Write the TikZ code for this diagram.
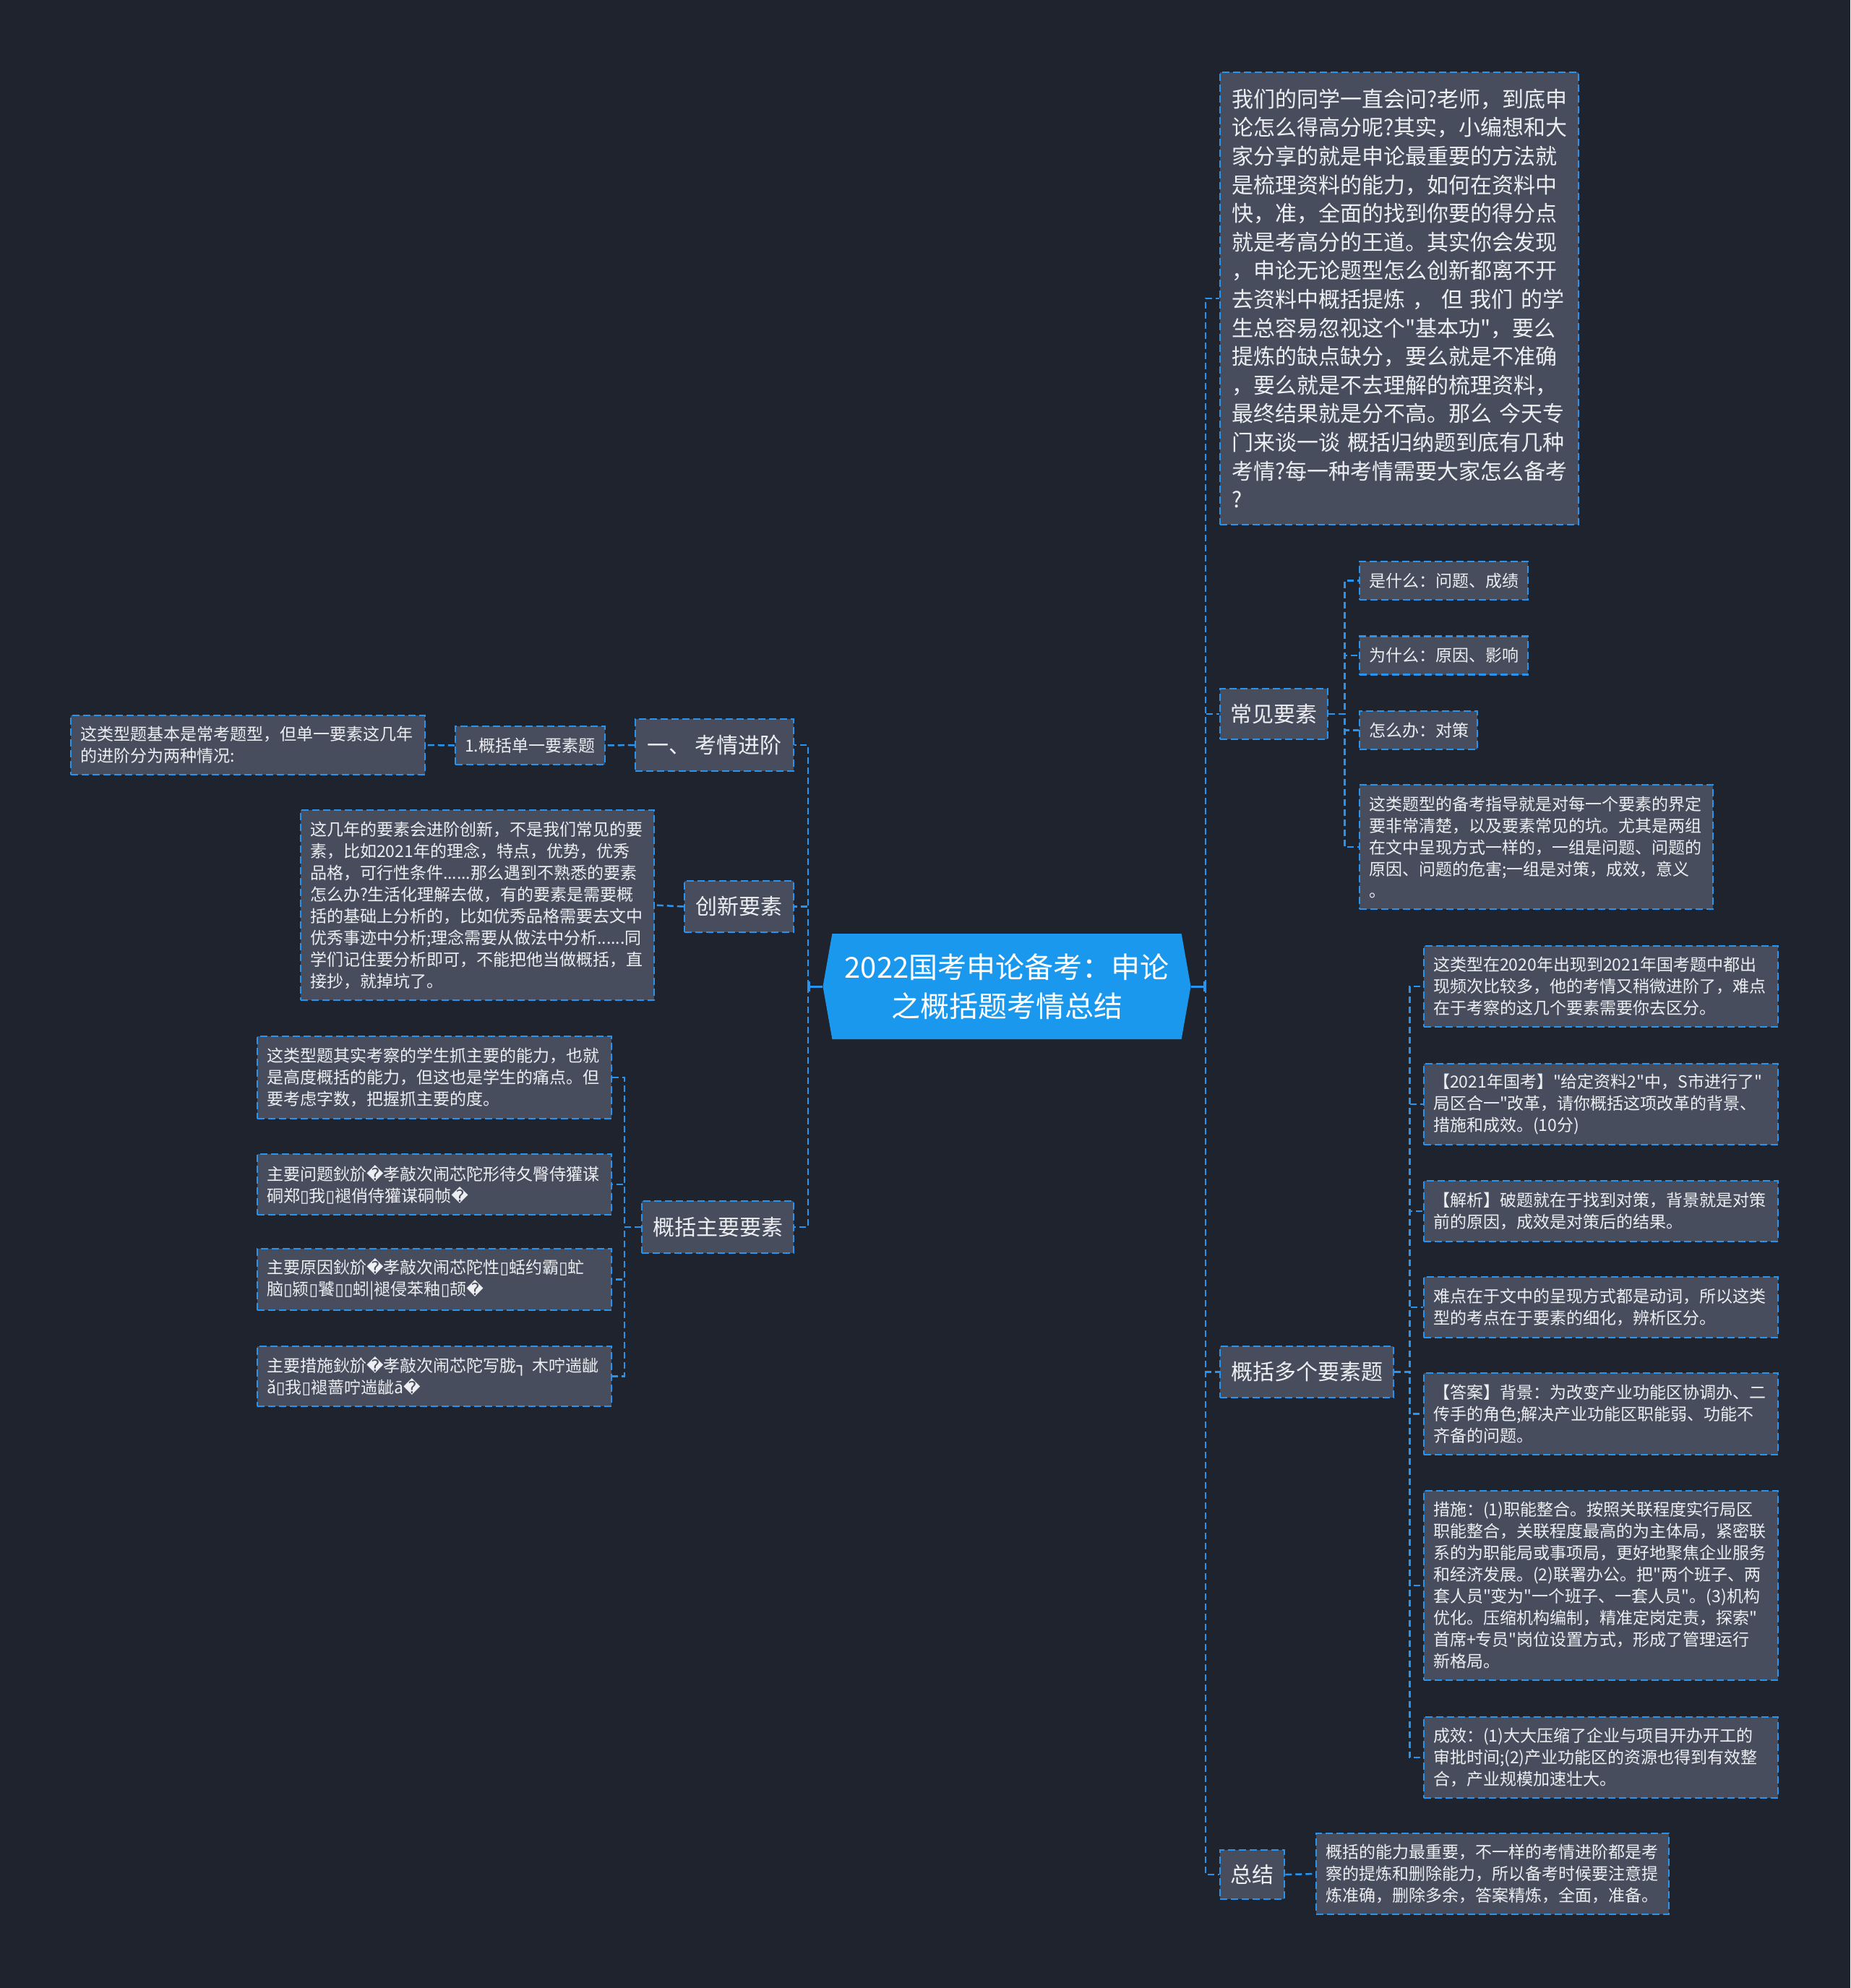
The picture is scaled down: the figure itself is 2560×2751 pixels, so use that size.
\documentclass[tikz,border=0pt]{standalone}
\usepackage{fontspec}
\setmainfont{Noto Sans CJK SC}[Ligatures=TeXOff]
\newfontfamily\symfont{DejaVu Sans}
\usetikzlibrary{shapes.symbols,arrows.meta}
\definecolor{bgnavy}{RGB}{31,35,46}
\definecolor{boxgray}{RGB}{71,77,92}
\definecolor{lineblue}{RGB}{40,148,238}
\definecolor{rootblue}{RGB}{26,152,238}
\definecolor{txtwhite}{RGB}{236,238,242}
\newcommand{\rpc}{{\symfont\char"FFFD}}
\newcommand{\nbx}{{\symfont\char"25AF}}
\newcommand{\bdc}{{\symfont\char"2510}}
\setlength{\parindent}{0pt}

\begin{document}
\begin{tikzpicture}[x=1pt,y=-1pt,
    topic/.style={draw=lineblue, fill=boxgray, line width=2.5pt, dash pattern=on 10pt off 5pt,
      text=txtwhite, font=\fontsize{30}{38}\selectfont, inner sep=0pt},
    note/.style={draw=lineblue, fill=boxgray, line width=2.5pt, dash pattern=on 10pt off 5pt,
      text=txtwhite, font=\fontsize{23}{30}\selectfont, align=left, inner xsep=13pt, inner ysep=0pt},
    link/.style={draw=lineblue, line width=2.5pt, dash pattern=on 9pt off 5pt},
    rootlink/.style={draw=lineblue, line width=3pt, -{Bar[width=14pt,line width=3pt]}}]

    % Background
    \fill[bgnavy] (0,0) rectangle (2560,2751);
    \useasboundingbox (0,0) rectangle (2560,2751);

    % Root
    \node[signal, signal to=east and west, signal pointer angle=160, fill=rootblue, text=white,
      font=\fontsize{40}{54}\selectfont, align=center, minimum width=509pt, minimum height=146pt,
      inner sep=0pt] (root) at (1393,1365) {2022国考申论备考：申论\\之概括题考情总结};
    \coordinate (rtrunk) at (1668,1365);
    \coordinate (ltrunk) at (1118,1365);

    % Right branch
    \node[note, text width=464pt, minimum height=626pt, inner xsep=16pt,
      font=\fontsize{30}{39.6}\selectfont] (intro) at (1936,413) {我们的同学一直会问?老师，到底申\\%
论怎么得高分呢?其实，小编想和大\\%
家分享的就是申论最重要的方法就\\%
是梳理资料的能力，如何在资料中\\%
快，准，全面的找到你要的得分点\\%
就是考高分的王道。其实你会发现\\%
，申论无论题型怎么创新都离不开\\%
去资料中概括提炼~，~但~我们~的学\\%
生总容易忽视这个"基本功"，要么\\%
提炼的缺点缺分，要么就是不准确\\%
，要么就是不去理解的梳理资料，\\%
最终结果就是分不高。那么~今天专\\%
门来谈一谈~概括归纳题到底有几种\\%
考情?每一种考情需要大家怎么备考\\%
?};

    \node[topic, minimum width=149pt, minimum height=70pt] (common) at (1762.5,988) {常见要素};
    \node[note, text width=207pt, minimum height=53pt] (whatis) at (1997.5,803.5) {是什么：问题、成绩};
    \node[note, text width=207pt, minimum height=53pt] (why) at (1997.5,907) {为什么：原因、影响};
    \node[note, text width=137pt, minimum height=53pt] (how) at (1962.5,1010.5) {怎么办：对策};
    \node[note, text width=463pt, minimum height=172pt] (guide) at (2125.5,1172) {这类题型的备考指导就是对每一个要素的界定\\%
要非常清楚，以及要素常见的坑。尤其是两组\\%
在文中呈现方式一样的，一组是问题、问题的\\%
原因、问题的危害;一组是对策，成效，意义\\%
。};

    \node[topic, minimum width=240pt, minimum height=71pt] (multi) at (1808,1898.5) {概括多个要素题};
    \node[note, text width=464pt, minimum height=112pt] (m1) at (2215,1365) {这类型在2020年出现到2021年国考题中都出\\%
现频次比较多，他的考情又稍微进阶了，难点\\%
在于考察的这几个要素需要你去区分。};
    \node[note, text width=464pt, minimum height=112pt] (m2) at (2215,1528) {【2021年国考】"给定资料2"中，S市进行了"\\%
局区合一"改革，请你概括这项改革的背景、\\%
措施和成效。(10分)};
    \node[note, text width=464pt, minimum height=84pt] (m3) at (2215,1676) {【解析】破题就在于找到对策，背景就是对策\\%
前的原因，成效是对策后的结果。};
    \node[note, text width=464pt, minimum height=84pt] (m4) at (2215,1809) {难点在于文中的呈现方式都是动词，所以这类\\%
型的考点在于要素的细化，辨析区分。};
    \node[note, text width=464pt, minimum height=113pt] (m5) at (2215,1956.5) {【答案】背景：为改变产业功能区协调办、二\\%
传手的角色;解决产业功能区职能弱、功能不\\%
齐备的问题。};
    \node[note, text width=464pt, minimum height=262pt] (m6) at (2215,2194) {措施：(1)职能整合。按照关联程度实行局区\\%
职能整合，关联程度最高的为主体局，紧密联\\%
系的为职能局或事项局，更好地聚焦企业服务\\%
和经济发展。(2)联署办公。把"两个班子、两\\%
套人员"变为"一个班子、一套人员"。(3)机构\\%
优化。压缩机构编制，精准定岗定责，探索"\\%
首席+专员"岗位设置方式，形成了管理运行\\%
新格局。};
    \node[note, text width=464pt, minimum height=112pt] (m7) at (2215,2432) {成效：(1)大大压缩了企业与项目开办开工的\\%
审批时间;(2)产业功能区的资源也得到有效整\\%
合，产业规模加速壮大。};

    \node[topic, minimum width=89pt, minimum height=68pt] (summary) at (1732.5,2594) {总结};
    \node[note, text width=462pt, minimum height=112pt] (sumnote) at (2065,2593) {概括的能力最重要，不一样的考情进阶都是考\\%
察的提炼和删除能力，所以备考时候要注意提\\%
炼准确，删除多余，答案精炼，全面，准备。};

    % Left branch
    \node[topic, minimum width=219pt, minimum height=72pt] (advance) at (988.5,1031) {一、~考情进阶};
    \node[note, text width=181pt, minimum height=53pt] (single) at (733.5,1031.5) {1.概括单一要素题};
    \node[note, text width=464pt, minimum height=82pt] (singlenote) at (343,1031) {这类型题基本是常考题型，但单一要素这几年\\%
的进阶分为两种情况:};

    \node[topic, minimum width=151pt, minimum height=71pt] (innov) at (1022.5,1254.5) {创新要素};
    \node[note, text width=463pt, minimum height=263pt] (innovnote) at (660.5,1252.5) {这几年的要素会进阶创新，不是我们常见的要\\%
素，比如2021年的理念，特点，优势，优秀\\%
品格，可行性条件......那么遇到不熟悉的要素\\%
怎么办?生活化理解去做，有的要素是需要概\\%
括的基础上分析的，比如优秀品格需要去文中\\%
优秀事迹中分析;理念需要从做法中分析......同\\%
学们记住要分析即可，不能把他当做概括，直\\%
接抄，就掉坑了。};

    \node[topic, minimum width=210pt, minimum height=72pt] (mainel) at (993,1698) {概括主要要素};
    \node[note, text width=464pt, minimum height=114pt] (k1) at (601,1491) {这类型题其实考察的学生抓主要的能力，也就\\%
是高度概括的能力，但这也是学生的痛点。但\\%
要考虑字数，把握抓主要的度。};
    \node[note, text width=464pt, minimum height=84pt] (k2) at (601,1639) {主要问题鈥斺\rpc 孝敲次闹芯陀形待夂臀侍獾谋\\%
硐郑\nbx 我\nbx 褪俏侍獾谋硐帧\rpc};
    \node[note, text width=464pt, minimum height=85pt] (k3) at (601,1770.5) {主要原因鈥斺\rpc 孝敲次闹芯陀性\nbx 蛞约霸\nbx 虻\\%
脑\nbx 颍\nbx 饕\nbx\nbx 蚓|褪侵苯釉\nbx 颉\rpc};
    \node[note, text width=464pt, minimum height=83pt] (k4) at (601,1904.5) {主要措施鈥斺\rpc 孝敲次闹芯陀写胧\bdc~木咛遄龇\\%
ǎ\nbx 我\nbx 褪蔷咛遄龇ā\rpc};

    % Connectors
    \draw[rootlink] (root.east) -- (rtrunk);
    \draw[rootlink] (root.west) -- (ltrunk);
    \foreach \n in {intro,common,multi,summary}
        \draw[link] (rtrunk) |- (\n.west);
    \foreach \n in {advance,innov,mainel}
        \draw[link] (ltrunk) |- (\n.east);
    \foreach \n in {whatis,why,how,guide}
        \draw[link] (common.east) -- ++(22,0) |- (\n.west);
    \foreach \n in {m1,m2,m3,m4,m5,m6,m7}
        \draw[link] (multi.east) -- ++(21,0) |- (\n.west);
    \foreach \n in {k1,k2,k3,k4}
        \draw[link] (mainel.west) -- ++(-23,0) |- (\n.east);
    \draw[link] (summary.east) -- (sumnote.west);
    \draw[link] (advance.west) -- (single.east);
    \draw[link] (single.west) -- (singlenote.east);
    \draw[link] (innov.west) -- (innovnote.east);
\end{tikzpicture}
\end{document}
